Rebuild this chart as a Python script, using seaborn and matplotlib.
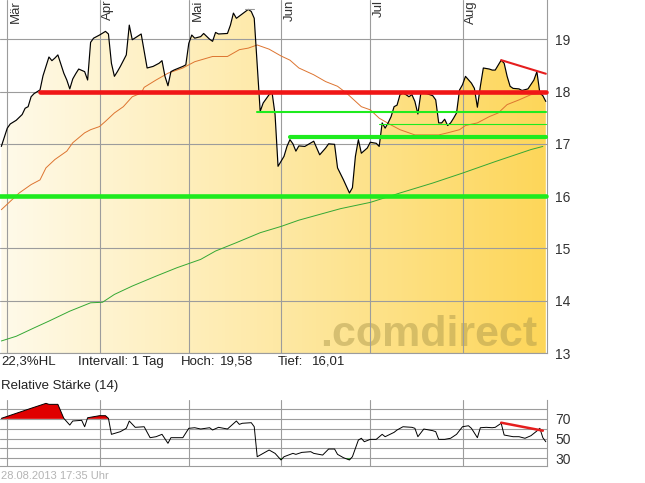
import numpy as np
import pandas as pd
import matplotlib
matplotlib.use("Agg")
import matplotlib.pyplot as plt
import seaborn as sns
from matplotlib.patches import Polygon
from matplotlib.colors import LinearSegmentedColormap

# -----------------------------
# DATEN (Tage seit 01.03.2013)
# -----------------------------

basis = pd.Timestamp("2013-03-01")
monate = ["Mär", "Apr", "Mai", "Jun", "Jul", "Aug"]

kurs_tag = [-2, 0, 1, 3, 5, 6, 7, 8, 9, 11, 12, 14, 15, 16, 17, 19, 20, 21, 22, 23,
            24, 26, 27, 28, 29, 31, 33, 34, 35, 36, 37, 38, 40, 41, 42, 45, 47, 49, 51, 52,
            53, 54, 55, 56, 59, 60, 61, 62, 63, 65, 66, 68, 69, 70, 71, 74, 75, 76, 77, 81,
            82, 83, 85, 86, 88, 89, 90, 91, 93, 94, 95, 96, 97, 98, 100, 103, 105, 107, 108, 110,
            111, 113, 115, 116, 117, 118, 119, 121, 122, 124, 125, 126, 127, 128, 129, 130, 131, 132, 133, 134,
            135, 136, 137, 138, 139, 141, 143, 144, 145, 146, 147, 148, 149, 150, 151, 152, 153, 154, 156, 157,
            158, 159, 160, 162, 163, 164, 166, 167, 168, 169, 170, 172, 173, 175, 177, 178, 179, 180, 181]
kurs = [16.95, 17.30, 17.38, 17.45, 17.56, 17.68, 17.71, 17.90, 17.96, 18.03, 18.30, 18.66, 18.59, 18.64, 18.70, 18.35, 18.22, 18.05, 18.24, 18.34,
        18.43, 18.38, 18.22, 18.94, 19.02, 19.08, 19.15, 19.10, 18.54, 18.29, 18.38, 18.48, 18.70, 19.27, 18.99, 19.10, 18.45, 18.48, 18.54, 18.59,
        18.29, 18.11, 18.38, 18.41, 18.48, 18.51, 18.92, 19.08, 19.02, 19.05, 19.11, 19.00, 18.96, 19.13, 19.10, 19.11, 19.27, 19.50, 19.40, 19.57,
        19.53, 19.40, 17.62, 17.78, 17.94, 17.98, 17.56, 16.57, 16.76, 16.95, 17.08, 17.00, 16.86, 16.96, 16.95, 17.05, 16.79, 16.92, 17.00, 16.99,
        16.54, 16.31, 16.06, 16.16, 16.76, 17.08, 16.82, 16.92, 17.03, 17.01, 16.95, 17.40, 17.30, 17.40, 17.52, 17.71, 17.74, 17.94, 17.97, 17.94,
        17.90, 17.94, 17.81, 17.57, 17.97, 17.96, 17.92, 17.84, 17.40, 17.40, 17.47, 17.35, 17.40, 17.49, 17.59, 18.03, 18.13, 18.29, 18.16, 18.06,
        17.70, 18.10, 18.45, 18.43, 18.41, 18.41, 18.60, 18.54, 18.29, 18.10, 18.06, 18.05, 18.02, 18.05, 18.22, 18.38, 17.97, 17.92, 17.81]

ma38_tag = [-2, 1, 4, 8, 11, 13, 16, 20, 22, 26, 28, 31, 33, 36, 39, 42, 45, 46, 50, 54,
            59, 63, 69, 74, 78, 81, 84, 88, 92, 95, 98, 103, 107, 111, 114, 119, 122, 125, 129, 132,
            135, 137, 145, 148, 152, 154, 158, 162, 165, 168, 172, 176, 180]
ma38 = [15.74, 15.90, 16.06, 16.22, 16.31, 16.54, 16.70, 16.86, 17.02, 17.21, 17.27, 17.33, 17.43, 17.59, 17.71, 17.90, 17.97, 18.08, 18.22, 18.35,
        18.45, 18.57, 18.67, 18.67, 18.80, 18.83, 18.89, 18.81, 18.68, 18.60, 18.45, 18.32, 18.19, 18.10, 17.97, 17.71, 17.65, 17.49, 17.36, 17.27,
        17.21, 17.17, 17.17, 17.21, 17.27, 17.35, 17.40, 17.52, 17.59, 17.75, 17.84, 17.94, 17.96]

ma200_tag = [-2, 3, 9, 14, 21, 28, 32, 36, 42, 50, 57, 65, 70, 77, 85, 92, 98, 105, 112, 122,
             132, 143, 153, 164, 176, 180]
ma200 = [13.23, 13.32, 13.48, 13.61, 13.80, 13.96, 13.97, 14.12, 14.28, 14.47, 14.63, 14.79, 14.95, 15.11, 15.30, 15.42, 15.54, 15.65, 15.76, 15.88,
         16.06, 16.25, 16.44, 16.66, 16.89, 16.95]

rsi_tag = [-2, 3, 8, 13, 14, 17, 19, 21, 22, 25, 26, 27, 31, 33, 34, 35, 38, 40, 41, 43,
           46, 48, 50, 52, 54, 55, 59, 61, 63, 65, 68, 69, 71, 74, 77, 78, 79, 82, 83, 84,
           86, 88, 90, 92, 93, 96, 97, 99, 102, 103, 106, 108, 110, 111, 113, 115, 116, 118, 119, 120,
           122, 124, 126, 127, 130, 131, 133, 136, 137, 138, 140, 143, 144, 145, 147, 149, 151, 153, 155, 156,
           158, 159, 161, 163, 164, 166, 167, 170, 172, 174, 176, 178, 179, 180, 181]
rsi = [70.5, 75.6, 80.7, 85.7, 84.7, 84.7, 70.5, 63.7, 67.8, 68.5, 62, 71.1, 73.2, 73.2, 70.5, 54.3, 57, 60.4, 67.8, 61.4,
       62, 50.9, 51.9, 54.3, 45.2, 50.9, 50.9, 60.4, 61, 59.7, 61, 58.7, 61.4, 59.7, 67.8, 64.4, 65.5, 66.1, 62, 31.6,
       35, 38.4, 35, 28.3, 31.6, 35, 34, 36, 36.7, 35, 33.3, 39.4, 39.4, 34, 30.6, 28.3, 31.6, 48.5, 50.3, 46.8,
       49.2, 49.2, 54.3, 51.9, 56.3, 58.7, 62, 61.4, 60.4, 51.9, 59.7, 58, 57, 49.2, 49.2, 50.3, 54.3, 62, 63, 60.4,
       50.9, 61, 61.4, 61, 61.4, 65.5, 53.6, 51.9, 51.9, 50.3, 52.9, 57.7, 60.4, 50.9, 46.8]

# Unterstuetzungen / Widerstaende
niveau = [18.00, 16.00, 17.60, 17.13, 17.37]
niveau_start = [11, -3, 84, 95, 125]

trend_tag = [166, 181]
trend_kurs = [18.60, 18.34]
rsi_trend_tag = [166, 180]
rsi_trend = [66.1, 58.0]

hoch_tag = [80, 83]
hoch = 19.58

# -----------------------------
# LAYOUT
# -----------------------------

sns.set_theme(style="white")
plt.rcParams["font.family"] = ["Liberation Sans", "DejaVu Sans"]

W, H = 645, 483
fig = plt.figure(figsize=(W / 100, H / 100), dpi=100)
ax = fig.add_axes([0, 1 - 353 / H, 547 / W, 353 / H])
ax2 = fig.add_axes([0, 17 / H, 547 / W, 66 / H])

x0, x1 = -2.45, 181.4
monat_start = pd.date_range(basis, periods=len(monate), freq="MS")
monat_tag = list((monat_start - basis).days)

grid_col = "#9c9c9c"
txt_col = "#222222"

# -----------------------------
# KURSCHART
# -----------------------------

ax.set_facecolor("white")

# Verlaufsflaeche unter dem Kurs
verts = [(kurs_tag[0], 13)] + list(zip(kurs_tag, kurs)) + [(kurs_tag[-1], 13)]
flaeche = Polygon(verts, closed=True, facecolor="none", edgecolor="none")
ax.add_patch(flaeche)
cmap = LinearSegmentedColormap.from_list("cd", ["#FFFAEA", "#FEE9A6", "#FDD659"])
img = ax.imshow(np.linspace(0, 1, 256).reshape(1, -1), cmap=cmap, aspect="auto",
                extent=[x0, x1, 13, 19.75], origin="lower", zorder=0.5)
img.set_clip_path(flaeche)

df_kurs = pd.DataFrame({"tag": kurs_tag, "kurs": kurs})
df_ma38 = pd.DataFrame({"tag": ma38_tag, "wert": ma38})
df_ma200 = pd.DataFrame({"tag": ma200_tag, "wert": ma200})

sns.lineplot(data=df_ma200, x="tag", y="wert", ax=ax, color="#34A834", linewidth=0.7, zorder=3)
sns.lineplot(data=df_ma38, x="tag", y="wert", ax=ax, color="#DD7430", linewidth=0.7, zorder=3)
sns.lineplot(data=df_kurs, x="tag", y="kurs", ax=ax, color="black", linewidth=0.85, zorder=4)

niveau_farbe = ["#F01616", "#1EEB1E", "#1EEB1E", "#1EEB1E", "#1EEB1E"]
niveau_breite = [3.3, 3.3, 1.5, 3.0, 0.8]
for y, start, c, lw in zip(niveau, niveau_start, niveau_farbe, niveau_breite):
    ax.plot([start, x1 - 0.3], [y, y], color=c, linewidth=lw, solid_capstyle="round",
            zorder=5, clip_on=False)

ax.plot(trend_tag, trend_kurs, color="#E51E1E", linewidth=1.5, zorder=5)
ax.plot(hoch_tag, [hoch, hoch], color="#999999", linewidth=0.8, zorder=5)

ax.text(0.982, 0.02, ".comdirect", transform=ax.transAxes, ha="right", va="baseline",
        fontsize=31, fontweight="bold", color="#A89448", alpha=0.45, zorder=1.2)

ax.set_xlim(x0, x1)
ax.set_ylim(13, 19.75)
ax.set_xticks(monat_tag)
ax.set_xticklabels([])
ax.set_yticks(range(13, 20))
ax.yaxis.tick_right()
ax.tick_params(axis="y", length=0, pad=6, labelsize=10, labelcolor="#333333")
ax.tick_params(axis="x", length=0)
ax.set_xlabel("")
ax.set_ylabel("")
ax.grid(True, color=grid_col, linewidth=0.8)
ax.set_axisbelow("line")
for s in ["left", "top"]:
    ax.spines[s].set_visible(False)
for s in ["right", "bottom"]:
    ax.spines[s].set_color(grid_col)
    ax.spines[s].set_linewidth(0.8)

for t, m in zip(monat_tag, monate):
    ax.annotate(m, xy=(t, 1), xycoords=("data", "axes fraction"), xytext=(2, 0),
                textcoords="offset points", rotation=90, ha="left", va="top",
                fontsize=9.5, color="#333333", zorder=6)

# -----------------------------
# TEXTZEILEN
# -----------------------------

y_info = 1 - 362 / H
fs = 9.5
fig.text(1 / W, y_info, "22,3%HL", fontsize=fs, color=txt_col, va="center")
fig.text(78 / W, y_info, "Intervall: 1 Tag", fontsize=fs, color=txt_col, va="center")
fig.text(181 / W, y_info, "Hoch:", fontsize=fs, color=txt_col, va="center")
fig.text(220 / W, y_info, "19,58", fontsize=fs, color=txt_col, va="center")
fig.text(278 / W, y_info, "Tief:", fontsize=fs, color=txt_col, va="center")
fig.text(312 / W, y_info, "16,01", fontsize=fs, color=txt_col, va="center")
fig.text(1 / W, 1 - 386 / H, "Relative Stärke (14)", fontsize=fs, color=txt_col, va="center")
fig.text(1 / W, 1 - 476 / H, "28.08.2013 17:35 Uhr", fontsize=8, color="#b4b4b4", va="center")

# -----------------------------
# RSI
# -----------------------------

df_rsi = pd.DataFrame({"tag": rsi_tag, "rsi": rsi})
r = np.array(rsi)
ax2.fill_between(rsi_tag, r, 70, where=r >= 70, interpolate=True, color="#E00000", linewidth=0, zorder=2)
ax2.fill_between(rsi_tag, r, 30, where=r <= 30, interpolate=True, color="#1E9E1E", linewidth=0, zorder=2)
sns.lineplot(data=df_rsi, x="tag", y="rsi", ax=ax2, color="black", linewidth=0.7, zorder=3)
ax2.plot(rsi_trend_tag, rsi_trend, color="#E51E1E", linewidth=1.8, zorder=4)

ax2.set_xlim(x0, x1)
ax2.set_ylim(22.2, 89.1)
ax2.set_xticks(monat_tag)
ax2.set_xticklabels([])
ax2.set_yticks([30, 40, 50, 60, 70, 80])
ax2.set_yticklabels(["30", "", "50", "", "70", ""])
ax2.yaxis.tick_right()
ax2.tick_params(axis="y", length=0, pad=6, labelsize=10, labelcolor="#333333")
ax2.tick_params(axis="x", length=0)
ax2.set_xlabel("")
ax2.set_ylabel("")
ax2.grid(True, color=grid_col, linewidth=0.8)
ax2.set_axisbelow(True)
for s in ["left", "top"]:
    ax2.spines[s].set_visible(False)
for s in ["right", "bottom"]:
    ax2.spines[s].set_color(grid_col)
    ax2.spines[s].set_linewidth(0.8)

fig.savefig("out.png", dpi=100)
